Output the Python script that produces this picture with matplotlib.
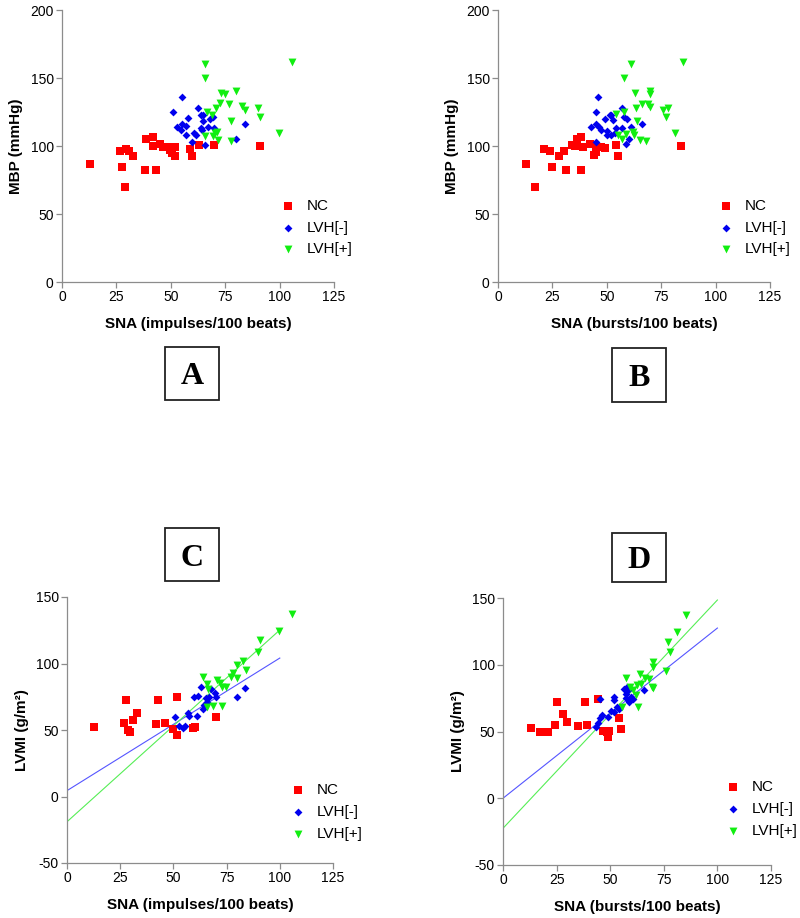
import matplotlib
matplotlib.use("Agg")
import matplotlib.pyplot as plt
from matplotlib.patches import Rectangle

plt.rcParams['font.family'] = ['Liberation Sans', 'DejaVu Sans']
plt.rcParams['axes.unicode_minus'] = False

groups = ['NC', 'LVH[-]', 'LVH[+]']
colors = ['#ff0000', '#0000ee', '#11ee11']
markers = ['s', 'D', 'v']
sizes = [34, 16, 32]
fit_colors = ['#5555ff', '#55ee55']

# A: SNA (impulses/100 beats) vs MBP
a_nc_x = [12.7, 26.8, 29.6, 30.7, 32.8, 27.8, 28.8, 38.1, 43.0, 38.8, 41.9, 41.9,
          45.0, 46.5, 48.1, 49.6, 51.9, 51.9, 50.4, 58.8, 59.9, 63.0, 69.9, 91.2]
a_nc_y = [87.1, 96.4, 97.7, 96.4, 92.8, 84.7, 69.9, 82.7, 82.7, 104.8, 106.7, 100.1,
          101.8, 99.4, 99.4, 96.9, 99.4, 92.8, 94.5, 97.7, 92.8, 100.6, 100.6, 99.9]
a_neg_x = [55.0, 50.8, 57.8, 52.7, 55.0, 56.8, 54.7, 56.8, 60.8, 61.6, 59.9, 62.7,
           63.9, 65.0, 67.0, 63.8, 64.2, 68.1, 69.6, 69.9, 65.8, 80.0, 84.0, 65.0]
a_neg_y = [136.2, 125.2, 120.5, 114.1, 116.1, 114.6, 111.7, 108.0, 109.2, 108.0, 102.6, 127.6,
           122.7, 118.5, 114.1, 112.9, 111.7, 120.2, 121.0, 112.9, 101.1, 104.8, 116.1, 122.7]
a_pos_x = [65.8, 65.8, 105.9, 73.2, 74.7, 79.9, 72.7, 76.9, 70.7, 82.7, 83.9, 90.1,
           90.8, 99.9, 77.8, 66.5, 68.8, 71.2, 65.8, 69.2, 71.9, 77.8, 70.4]
a_pos_y = [160.2, 149.7, 162.0, 138.7, 137.9, 140.6, 131.3, 130.6, 127.6, 129.3, 126.4, 128.1,
           121.0, 109.9, 118.5, 125.2, 122.7, 110.4, 107.2, 107.2, 104.3, 103.8, 109.2]

# B: SNA (bursts/100 beats) vs MBP
b_nc_x = [13.0, 17.2, 21.0, 24.1, 25.0, 28.1, 30.2, 31.1, 34.2, 35.3, 36.3, 38.0,
          38.0, 39.1, 42.2, 44.2, 45.2, 45.7, 47.5, 49.1, 54.1, 55.2, 84.0]
b_nc_y = [86.6, 69.9, 97.7, 96.4, 84.7, 92.8, 96.4, 82.7, 100.6, 99.9, 104.8, 106.7,
          82.7, 98.9, 101.8, 93.3, 95.7, 99.4, 98.9, 98.2, 100.6, 92.8, 99.9]
b_neg_x = [46.0, 44.9, 42.9, 45.2, 46.5, 47.2, 44.9, 49.1, 51.4, 52.1, 52.9, 54.0,
           50.2, 50.2, 52.1, 53.7, 57.1, 58.0, 59.4, 57.2, 61.0, 60.1, 59.0, 66.0]
b_neg_y = [136.2, 125.2, 114.1, 116.1, 114.1, 111.7, 103.1, 120.2, 122.7, 122.7, 119.0, 112.9,
           110.9, 108.0, 108.0, 109.2, 127.6, 121.0, 119.5, 112.9, 114.1, 104.8, 101.3, 116.1]
b_pos_x = [60.9, 57.8, 85.1, 62.9, 69.8, 69.8, 66.0, 63.2, 69.0, 69.8, 75.9, 78.2,
           77.1, 81.3, 54.1, 57.8, 64.1, 62.1, 62.5, 59.0, 55.2, 57.2, 65.2, 67.9]
b_pos_y = [160.2, 149.7, 162.0, 139.1, 140.6, 137.9, 130.6, 127.6, 130.8, 128.8, 126.4, 127.6,
           121.0, 109.7, 123.2, 125.2, 118.5, 110.4, 108.0, 108.7, 108.0, 104.8, 104.3, 103.8]

# C: SNA (impulses/100 beats) vs LVMI
c_nc_x = [12.8, 27.7, 26.8, 28.8, 29.6, 30.9, 32.8, 42.8, 41.8, 46.1, 51.8, 49.9,
          51.8, 59.1, 60.2, 69.9]
c_nc_y = [52.5, 72.6, 55.0, 50.0, 48.7, 57.5, 63.0, 72.6, 54.3, 55.0, 74.6, 50.5,
          46.2, 51.3, 52.0, 59.5]
c_neg_x = [50.8, 52.8, 54.7, 55.5, 56.7, 57.5, 61.0, 59.7, 61.7, 62.8, 63.8, 64.4,
           65.2, 66.7, 67.7, 69.5, 69.9, 65.6, 79.7, 83.8]
c_neg_y = [59.5, 53.2, 51.3, 53.0, 62.5, 60.5, 60.8, 74.6, 75.8, 82.1, 65.6, 68.8,
           73.8, 74.6, 80.6, 77.6, 75.1, 71.3, 75.1, 81.3]
c_pos_x = [105.9, 99.8, 90.7, 89.9, 82.9, 79.7, 84.0, 77.9, 76.9, 80.0, 63.8, 65.6,
           70.7, 71.9, 74.6, 73.0, 66.4, 68.8, 73.0, 65.6]
c_pos_y = [137.2, 124.4, 117.7, 108.9, 101.9, 98.9, 95.1, 93.1, 89.6, 89.4, 90.1, 84.6,
           87.6, 85.6, 82.6, 82.6, 80.6, 68.0, 68.2, 67.1]

# D: SNA (bursts/100 beats) vs LVMI
d_nc_x = [12.9, 17.3, 21.1, 24.3, 25.2, 28.1, 30.0, 35.1, 38.2, 39.0, 44.2, 46.8,
          48.4, 49.1, 49.4, 54.2, 55.0]
d_nc_y = [52.8, 49.9, 49.4, 54.9, 71.9, 63.1, 56.9, 54.1, 71.9, 54.9, 74.3, 50.6,
          49.9, 46.1, 50.6, 59.9, 51.6]
d_neg_x = [43.2, 45.2, 46.0, 45.2, 49.1, 50.4, 51.8, 51.9, 51.9, 53.3, 54.2, 44.4,
           56.6, 57.2, 58.4, 57.2, 58.9, 59.6, 60.8, 65.9, 58.0]
d_neg_y = [53.1, 59.9, 62.4, 74.3, 61.1, 65.6, 64.9, 73.6, 75.6, 68.6, 66.9, 56.1,
           81.6, 78.1, 81.1, 74.9, 71.9, 76.1, 74.1, 81.1, 83.1]
d_pos_x = [85.2, 81.2, 77.1, 77.9, 76.0, 69.8, 69.8, 64.0, 66.2, 68.1, 64.4, 62.3,
           57.2, 69.3, 70.1, 60.8, 59.2, 61.9, 63.0, 55.4]
d_pos_y = [137.3, 124.3, 117.3, 109.3, 95.3, 102.3, 98.6, 93.1, 89.9, 89.1, 85.6, 84.8,
           89.9, 83.6, 82.6, 81.1, 83.1, 77.3, 68.6, 68.1]

# regression lines (LVH[-], LVH[+]) drawn over x = 0..100
fit_x = [0, 100]
c_fit_neg = [4.4, 104.1]
c_fit_pos = [-19.0, 125.2]
d_fit_neg = [0.0, 127.5]
d_fit_pos = [-22.5, 148.5]

W, H = 800, 918
fig = plt.figure(figsize=(W / 100, H / 100), dpi=100)


def panel(box, series, xlabel, ylabel, ylim, yticks, leg_pos, fits=None):
    l, t, r, b = box
    ax = fig.add_axes([l / W, 1 - b / H, (r - l) / W, (b - t) / H])
    if fits:
        for fy, fc in zip(fits, fit_colors):
            ax.plot(fit_x, fy, color=fc, lw=0.8, zorder=2)
    for (x, y), c, m, s, lab in zip(series, colors, markers, sizes, groups):
        ax.scatter(x, y, c=c, marker=m, s=s, linewidths=0, label=lab, zorder=3)
    ax.set_xlim(0, 125)
    ax.set_xticks([0, 25, 50, 75, 100, 125])
    ax.set_ylim(*ylim)
    ax.set_yticks(yticks)
    for sp in ['top', 'right']:
        ax.spines[sp].set_visible(False)
    for sp in ['left', 'bottom']:
        ax.spines[sp].set_color('#8c8c8c')
        ax.spines[sp].set_linewidth(0.9)
    ax.tick_params(direction='out', length=4, width=0.9, color='#8c8c8c',
                   labelsize=10, pad=2)
    ax.set_xlabel(xlabel, fontsize=11, fontweight='bold', labelpad=9)
    ax.set_ylabel(ylabel, fontsize=11, fontweight='bold', labelpad=5)
    ax.legend(loc='center left', bbox_to_anchor=leg_pos, frameon=False,
              fontsize=11, handlelength=1.0, handletextpad=0.75,
              labelspacing=0.5, borderpad=0, borderaxespad=0, scatterpoints=1)
    return ax


panel((62, 10, 334, 282), [(a_nc_x, a_nc_y), (a_neg_x, a_neg_y), (a_pos_x, a_pos_y)],
      'SNA (impulses/100 beats)', 'MBP (mmHg)', (0, 200), [0, 50, 100, 150, 200],
      (0.803, 0.20))
panel((498, 10, 770, 282), [(b_nc_x, b_nc_y), (b_neg_x, b_neg_y), (b_pos_x, b_pos_y)],
      'SNA (bursts/100 beats)', 'MBP (mmHg)', (0, 200), [0, 50, 100, 150, 200],
      (0.81, 0.20))
panel((67, 597, 333, 863), [(c_nc_x, c_nc_y), (c_neg_x, c_neg_y), (c_pos_x, c_pos_y)],
      'SNA (impulses/100 beats)', 'LVMI (g/m²)', (-50, 150), [-50, 0, 50, 100, 150],
      (0.84, 0.192), fits=[c_fit_neg, c_fit_pos])
panel((503, 598, 771, 865), [(d_nc_x, d_nc_y), (d_neg_x, d_neg_y), (d_pos_x, d_pos_y)],
      'SNA (bursts/100 beats)', 'LVMI (g/m²)', (-50, 150), [-50, 0, 50, 100, 150],
      (0.83, 0.21), fits=[d_fit_neg, d_fit_pos])

# letter boxes
for letter, (x0, y0, x1, y1) in zip('ABCD', [(165, 347, 219, 400), (612, 348, 666, 402),
                                            (165, 528, 219, 581), (612, 533, 666, 582)]):
    fig.add_artist(Rectangle((x0 / W, 1 - y1 / H), (x1 - x0) / W, (y1 - y0) / H,
                             transform=fig.transFigure, fill=False,
                             edgecolor='#222222', linewidth=1.3))
    fig.text((x0 + x1) / 2 / W, 1 - ((y0 + y1) / 2 + 11) / H, letter,
             family=['Liberation Serif', 'DejaVu Serif'], fontweight='bold',
             fontsize=23, ha='center', va='baseline')

fig.savefig('out.png', dpi=100)
